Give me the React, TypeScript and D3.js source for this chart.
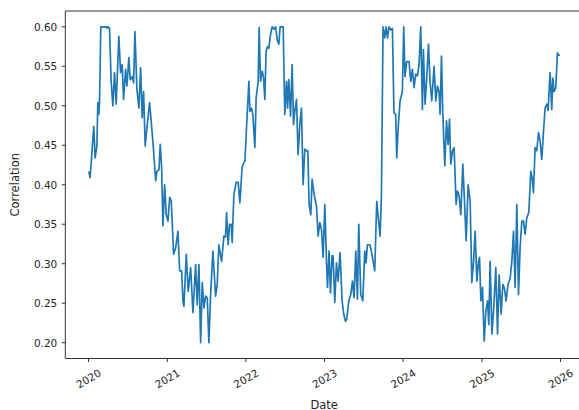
import React from "react";
import * as d3 from "d3";

// Dates as decimal years
const dateYears: number[] = [
  2020.004, 2020.020, 2020.067, 2020.084, 2020.106, 2020.118, 2020.131, 2020.140, 2020.156, 2020.224,
  2020.236, 2020.249, 2020.267, 2020.287, 2020.309, 2020.330, 2020.351, 2020.385, 2020.407, 2020.427,
  2020.445, 2020.470, 2020.487, 2020.512, 2020.529, 2020.554, 2020.572, 2020.589, 2020.614, 2020.639,
  2020.661, 2020.681, 2020.699, 2020.719, 2020.745, 2020.775, 2020.817, 2020.852, 2020.868, 2020.894,
  2020.910, 2020.928, 2020.944, 2020.966, 2020.986, 2021.008, 2021.030, 2021.050, 2021.080, 2021.106,
  2021.135, 2021.157, 2021.182, 2021.199, 2021.211, 2021.241, 2021.266, 2021.297, 2021.326, 2021.360,
  2021.380, 2021.402, 2021.424, 2021.444, 2021.466, 2021.487, 2021.508, 2021.529, 2021.551, 2021.580,
  2021.614, 2021.635, 2021.656, 2021.691, 2021.720, 2021.741, 2021.754, 2021.774, 2021.792, 2021.813,
  2021.825, 2021.847, 2021.876, 2021.902, 2021.923, 2021.952, 2021.965, 2021.987, 2022.016, 2022.038,
  2022.050, 2022.072, 2022.088, 2022.114, 2022.130, 2022.156, 2022.168, 2022.186, 2022.207, 2022.224,
  2022.241, 2022.257, 2022.275, 2022.292, 2022.313, 2022.334, 2022.355, 2022.377, 2022.402, 2022.419,
  2022.435, 2022.474, 2022.495, 2022.517, 2022.530, 2022.546, 2022.568, 2022.588, 2022.606, 2022.622,
  2022.644, 2022.664, 2022.686, 2022.707, 2022.728, 2022.749, 2022.771, 2022.788, 2022.804, 2022.826,
  2022.842, 2022.868, 2022.898, 2022.919, 2022.940, 2022.962, 2022.982, 2023.004, 2023.025, 2023.038,
  2023.058, 2023.076, 2023.096, 2023.109, 2023.131, 2023.152, 2023.173, 2023.198, 2023.224, 2023.245,
  2023.267, 2023.283, 2023.309, 2023.334, 2023.356, 2023.376, 2023.398, 2023.419, 2023.436, 2023.461,
  2023.487, 2023.512, 2023.529, 2023.546, 2023.576, 2023.588, 2023.610, 2023.639, 2023.665, 2023.681,
  2023.707, 2023.724, 2023.745, 2023.766, 2023.783, 2023.801, 2023.821, 2023.843, 2023.864, 2023.884,
  2023.906, 2023.919, 2023.940, 2023.961, 2023.991, 2024.008, 2024.024, 2024.046, 2024.075, 2024.097,
  2024.118, 2024.139, 2024.160, 2024.182, 2024.202, 2024.224, 2024.245, 2024.258, 2024.279, 2024.300,
  2024.322, 2024.342, 2024.364, 2024.393, 2024.415, 2024.436, 2024.457, 2024.469, 2024.487, 2024.503,
  2024.529, 2024.551, 2024.571, 2024.589, 2024.605, 2024.627, 2024.647, 2024.673, 2024.690, 2024.711,
  2024.732, 2024.758, 2024.779, 2024.800, 2024.825, 2024.851, 2024.872, 2024.894, 2024.914, 2024.936,
  2024.958, 2024.970, 2024.987, 2025.008, 2025.029, 2025.050, 2025.072, 2025.088, 2025.105, 2025.127,
  2025.148, 2025.177, 2025.199, 2025.219, 2025.245, 2025.266, 2025.288, 2025.308, 2025.333, 2025.359,
  2025.381, 2025.402, 2025.423, 2025.444, 2025.466, 2025.486, 2025.508, 2025.529, 2025.550, 2025.571,
  2025.597, 2025.622, 2025.639, 2025.656, 2025.677, 2025.698, 2025.720, 2025.740, 2025.762, 2025.784,
  2025.804, 2025.826, 2025.842, 2025.868, 2025.889, 2025.902, 2025.918, 2025.940, 2025.961, 2025.987,
];

const correlation: number[] = [
  0.417, 0.409, 0.474, 0.434, 0.449, 0.504, 0.489, 0.506, 0.600, 0.600,
  0.598, 0.600, 0.598, 0.531, 0.500, 0.542, 0.502, 0.588, 0.542, 0.552,
  0.508, 0.546, 0.525, 0.561, 0.533, 0.537, 0.529, 0.594, 0.521, 0.497,
  0.548, 0.485, 0.518, 0.449, 0.476, 0.504, 0.455, 0.405, 0.417, 0.419,
  0.451, 0.422, 0.348, 0.400, 0.362, 0.354, 0.384, 0.380, 0.312, 0.320,
  0.341, 0.291, 0.291, 0.253, 0.246, 0.312, 0.265, 0.295, 0.238, 0.299,
  0.248, 0.299, 0.200, 0.276, 0.244, 0.259, 0.257, 0.200, 0.261, 0.316,
  0.259, 0.274, 0.324, 0.303, 0.335, 0.334, 0.365, 0.324, 0.350, 0.350,
  0.327, 0.388, 0.403, 0.403, 0.377, 0.422, 0.426, 0.430, 0.489, 0.531,
  0.493, 0.497, 0.489, 0.447, 0.510, 0.531, 0.599, 0.531, 0.544, 0.536,
  0.508, 0.569, 0.575, 0.573, 0.590, 0.600, 0.597, 0.600, 0.582, 0.578,
  0.600, 0.600, 0.489, 0.531, 0.497, 0.533, 0.487, 0.552, 0.476, 0.493,
  0.508, 0.438, 0.476, 0.497, 0.400, 0.445, 0.443, 0.443, 0.375, 0.362,
  0.407, 0.388, 0.373, 0.335, 0.352, 0.343, 0.308, 0.375, 0.303, 0.270,
  0.316, 0.263, 0.310, 0.310, 0.251, 0.301, 0.278, 0.314, 0.253, 0.236,
  0.227, 0.230, 0.253, 0.261, 0.278, 0.257, 0.316, 0.255, 0.350, 0.261,
  0.253, 0.316, 0.301, 0.324, 0.324, 0.320, 0.308, 0.291, 0.379, 0.362,
  0.335, 0.386, 0.600, 0.586, 0.600, 0.586, 0.600, 0.596, 0.598, 0.491,
  0.489, 0.434, 0.476, 0.506, 0.518, 0.600, 0.537, 0.556, 0.556, 0.531,
  0.546, 0.523, 0.540, 0.538, 0.552, 0.600, 0.495, 0.571, 0.502, 0.535,
  0.578, 0.531, 0.506, 0.550, 0.506, 0.525, 0.517, 0.489, 0.563, 0.493,
  0.424, 0.481, 0.451, 0.483, 0.426, 0.443, 0.447, 0.375, 0.392, 0.386,
  0.362, 0.426, 0.379, 0.329, 0.400, 0.379, 0.276, 0.303, 0.341, 0.278,
  0.303, 0.308, 0.253, 0.270, 0.202, 0.240, 0.253, 0.223, 0.303, 0.211,
  0.240, 0.295, 0.211, 0.286, 0.236, 0.274, 0.268, 0.253, 0.274, 0.281,
  0.303, 0.341, 0.270, 0.375, 0.261, 0.320, 0.354, 0.354, 0.337, 0.358,
  0.365, 0.417, 0.409, 0.390, 0.447, 0.443, 0.466, 0.456, 0.432, 0.468,
  0.497, 0.502, 0.494, 0.542, 0.495, 0.535, 0.518, 0.523, 0.567, 0.563,
];

const yTickValues: number[] = [0.2, 0.25, 0.3, 0.35, 0.4, 0.45, 0.5, 0.55, 0.6];
const xTickYears: number[] = [2020, 2021, 2022, 2023, 2024, 2025, 2026];
const xLabel = "Date";
const yLabel = "Correlation";

function toDate(t: number): Date {
  const yr = Math.floor(t);
  const s = Date.UTC(yr, 0, 1);
  const e = Date.UTC(yr + 1, 0, 1);
  return new Date(s + (t - yr) * (e - s));
}

export default function App() {
  const W = 579;
  const H = 410;
  const left = 65.3;
  const right = 583;
  const top = 11;
  const bottom = 358.5;
  const font = "'DejaVu Sans', sans-serif";
  const textColor = "#262626";
  const spineColor = "#333";

  const points: [Date, number][] = dateYears.map((t, i) => [toDate(t), correlation[i]]);
  const [dMin, dMax] = d3.extent(points, (p) => +p[0]) as [number, number];
  const dSpan = dMax - dMin;
  const [vMin, vMax] = d3.extent(points, (p) => p[1]) as [number, number];
  const vSpan = vMax - vMin;

  const x = d3
    .scaleUtc()
    .domain([new Date(dMin - 0.05 * dSpan), new Date(dMax + 0.05 * dSpan)])
    .range([left, right]);
  const y = d3
    .scaleLinear()
    .domain([vMin - 0.05 * vSpan, vMax + 0.05 * vSpan])
    .range([bottom, top]);

  const line = d3
    .line<[Date, number]>()
    .x((d) => x(d[0]))
    .y((d) => y(d[1]));

  const fmtY = d3.format(".2f");

  return (
    <svg
      width={W}
      height={H}
      style={{ position: "absolute", left: 0, top: 0, display: "block", background: "#fff" }}
    >
      <defs>
        <clipPath id="plotClip">
          <rect x={left} y={top} width={right - left} height={bottom - top} />
        </clipPath>
      </defs>
      <path
        d={line(points) || ""}
        fill="none"
        stroke="#1f77b4"
        strokeWidth={1.7}
        strokeLinejoin="round"
        clipPath="url(#plotClip)"
      />
      {/* spines (right spine falls outside the visible area) */}
      <line x1={left} x2={left} y1={top} y2={bottom} stroke={spineColor} strokeWidth={1} />
      <line x1={left} x2={W} y1={bottom} y2={bottom} stroke={spineColor} strokeWidth={1} />
      <line x1={left} x2={W} y1={top} y2={top} stroke={spineColor} strokeWidth={1} />

      {/* y ticks */}
      {yTickValues.map((v) => (
        <g key={v}>
          <line x1={left - 3.5} x2={left} y1={y(v)} y2={y(v)} stroke={spineColor} strokeWidth={1} />
          <text
            x={left - 8}
            y={y(v)}
            textAnchor="end"
            dominantBaseline="central"
            fontFamily={font}
            fontSize={10.5}
            fill={textColor}
          >
            {fmtY(v)}
          </text>
        </g>
      ))}

      {/* x ticks */}
      {xTickYears.map((yr) => {
        const px = x(toDate(yr));
        return (
          <g key={yr}>
            <line x1={px} x2={px} y1={bottom} y2={bottom + 3.5} stroke={spineColor} strokeWidth={1} />
            <text
              transform={`translate(${px},${bottom + 20}) rotate(-30)`}
              textAnchor="middle"
              dominantBaseline="central"
              fontFamily={font}
              fontSize={10.5}
              fill={textColor}
            >
              {String(yr)}
            </text>
          </g>
        );
      })}

      {/* axis labels */}
      <text
        x={(left + right) / 2}
        y={408.5}
        textAnchor="middle"
        fontFamily={font}
        fontSize={11.5}
        fill={textColor}
      >
        {xLabel}
      </text>
      <text
        transform={`translate(19,${(top + bottom) / 2}) rotate(-90)`}
        textAnchor="middle"
        fontFamily={font}
        fontSize={11.5}
        fill={textColor}
      >
        {yLabel}
      </text>
    </svg>
  );
}
